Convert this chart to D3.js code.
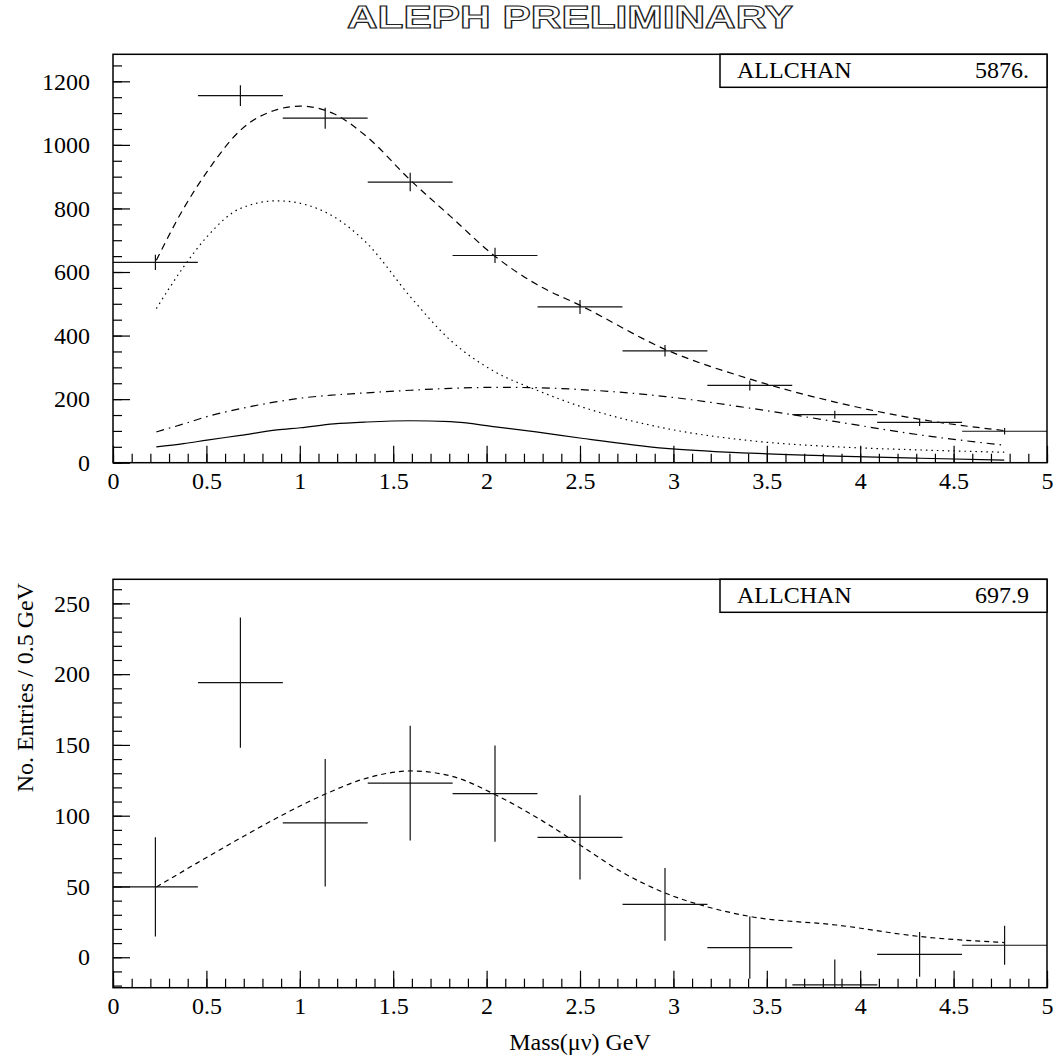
<!DOCTYPE html>
<html>
<head>
<meta charset="utf-8">
<script src="https://cdn.jsdelivr.net/npm/d3@7"></script>
<style>
  body { margin: 0; background: #fff; }
  svg text { font-family: "Liberation Serif", "Times New Roman", serif; }
</style>
</head>
<body>
<svg id="chart" width="1056" height="1060"></svg>
<script>
/* bin centres of the 11 mass bins (GeV), same for both histograms */
var binCenters = [0.227, 0.682, 1.136, 1.591, 2.045, 2.5, 2.955, 3.409, 3.864, 4.318, 4.773];
var binWidth = 0.4545;

/* upper histogram: all events */
var allCounts = [630, 1155, 1084, 883, 652, 490, 352, 243, 151, 127, 99];
var allErrors = [24, 33, 33, 29, 24, 22, 18, 16, 12.5, 11.5, 10.5];

/* fitted components of the upper histogram, sampled at curveX */
var curveX      = [0.232, 0.378, 0.503, 0.682, 0.878, 1.003, 1.182, 1.36, 1.592, 1.807, 2.048, 2.265, 2.508, 2.959, 3.416, 3.871, 4.325, 4.771];
var totalFit    = [637, 800, 915, 1046, 1111, 1122, 1098, 1025, 889, 775, 648, 562, 493, 356, 262, 190, 136, 101];
var dottedFit   = [485, 616, 711, 800, 824, 816, 774, 690, 522, 385, 285, 229, 176, 108, 69, 50, 40, 33];
var dashDotFit  = [97, 122, 145, 170, 192, 203, 213, 220, 228, 234, 237, 236, 230, 208, 171, 129, 87, 55];
var solidFit    = [50, 60, 71, 86, 103, 110, 122, 128, 132, 129, 113, 97, 77, 45, 30, 21, 14, 8];

/* lower histogram: background subtracted */
var subCounts = [49.7, 194, 95, 123, 115.6, 84.7, 37.4, 6.8, -19.5, 2.1, 8.5];
var subErrors = [35, 46, 45, 40.5, 34, 29.7, 25.7, 22, 18, 15.8, 13.8];
var subFitX   = [0.233, 0.449, 0.693, 0.9, 1.14, 1.37, 1.595, 1.821, 2.05, 2.303, 2.508, 2.72, 2.959, 3.176, 3.416, 3.871, 4.325, 4.771];
var subFit    = [49.7, 66.5, 85, 100, 115.5, 127, 131.6, 127.6, 114.6, 96, 78.6, 60.5, 45.2, 35.8, 28.7, 22.8, 14.6, 10.4];

/* tick values */
var xMajor = d3.range(0, 11).map(function(i) { return i * 0.5; });
var xMinor = d3.range(0, 51).map(function(i) { return i / 10; });
var topYMajor = d3.range(0, 7).map(function(i) { return i * 200; });
var topYMinor = d3.range(0, 26).map(function(i) { return i * 50; });
var botYMajor = d3.range(0, 6).map(function(i) { return i * 50; });
var botYMinor = d3.range(-2, 27).map(function(i) { return i * 10; });

var serif = "'Liberation Serif', 'Times New Roman', serif";

var svg = d3.select("#chart"),
    left = 113, right = 1047,
    width = right - left,
    panelH = 408.4;

/* outlined title */
svg.append("text")
    .attr("x", 570).attr("y", 28)
    .attr("text-anchor", "middle")
    .attr("textLength", 446).attr("lengthAdjust", "spacingAndGlyphs")
    .style("font-family", "'Liberation Sans', Arial, sans-serif")
    .style("font-weight", "bold")
    .style("font-size", "31px")
    .attr("fill", "#fff").attr("stroke", "#222").attr("stroke-width", 1.1)
    .text("ALEPH PRELIMINARY");

function styleAxis(sel) {
  sel.select(".domain").remove();
  sel.selectAll("line").attr("stroke", "#000").attr("stroke-width", 1.2);
  sel.selectAll("text").attr("fill", "#000")
    .style("font-family", serif).style("font-size", "24px");
}

function drawPanel(top, cfg) {
  var g = svg.append("g").attr("transform", "translate(" + left + "," + top + ")");
  var x = d3.scaleLinear().domain([0, 5]).range([0, width]);
  var y = d3.scaleLinear().domain(cfg.yDomain).range([panelH, 0]);

  g.append("clipPath").attr("id", cfg.id)
    .append("rect").attr("width", width).attr("height", panelH);

  /* axes: ticks point inward */
  g.append("g").call(d3.axisLeft(y).tickValues(cfg.yMinor).tickSize(-9).tickFormat("")).call(styleAxis);
  g.append("g").call(d3.axisLeft(y).tickValues(cfg.yMajor).tickSize(-17).tickPadding(23)
      .tickFormat(function(d) { return String(d); })).call(styleAxis);
  g.append("g").attr("transform", "translate(0," + panelH + ")")
    .call(d3.axisBottom(x).tickValues(xMinor).tickSize(-9).tickFormat("")).call(styleAxis);
  g.append("g").attr("transform", "translate(0," + panelH + ")")
    .call(d3.axisBottom(x).tickValues(xMajor).tickSize(-17).tickPadding(9).tickFormat(function(d) { return String(d); }))
    .call(styleAxis);

  var plot = g.append("g").attr("clip-path", "url(#" + cfg.id + ")");

  /* fit curves */
  var line = d3.line()
    .x(function(d) { return x(d[0]); })
    .y(function(d) { return y(d[1]); })
    .curve(d3.curveMonotoneX);

  cfg.curves.forEach(function(c) {
    plot.append("path")
      .datum(c.xs.map(function(v, i) { return [v, c.ys[i]]; }))
      .attr("d", line)
      .attr("fill", "none")
      .attr("stroke", "#000")
      .attr("stroke-width", 1.2)
      .attr("stroke-dasharray", c.dash);
  });

  /* data points with error bars */
  var pts = plot.selectAll(".pt")
    .data(binCenters.map(function(c, i) { return {x: c, v: cfg.counts[i], e: cfg.errors[i]}; }))
    .enter().append("g").attr("class", "pt");

  pts.append("line")
    .attr("x1", function(d) { return x(d.x - binWidth / 2); })
    .attr("x2", function(d) { return x(d.x + binWidth / 2); })
    .attr("y1", function(d) { return y(d.v); })
    .attr("y2", function(d) { return y(d.v); });
  pts.append("line")
    .attr("x1", function(d) { return x(d.x); })
    .attr("x2", function(d) { return x(d.x); })
    .attr("y1", function(d) { return y(d.v - d.e); })
    .attr("y2", function(d) { return y(d.v + d.e); });
  pts.selectAll("line").attr("stroke", "#111").attr("stroke-width", 1.2);

  /* frame */
  g.append("rect").attr("width", width).attr("height", panelH)
    .attr("fill", "none").attr("stroke", "#000").attr("stroke-width", 1.5);

  /* stats box */
  var box = g.append("g").attr("transform", "translate(607,0)");
  box.append("rect").attr("width", 327).attr("height", 33)
    .attr("fill", "#fff").attr("stroke", "#000").attr("stroke-width", 1.5);
  box.append("text").attr("x", 17).attr("y", 24).text("ALLCHAN");
  box.append("text").attr("x", 309).attr("y", 24)
    .attr("text-anchor", "end").text(cfg.stat);
  box.selectAll("text").style("font-family", serif).style("font-size", "24px");

  return g;
}

drawPanel(54.3, {
  id: "clipTop",
  yDomain: [0, 1285],
  yMajor: topYMajor,
  yMinor: topYMinor,
  counts: allCounts,
  errors: allErrors,
  stat: "5876.",
  curves: [
    {xs: curveX, ys: totalFit, dash: "7,5"},
    {xs: curveX, ys: dottedFit, dash: "1.5,4"},
    {xs: curveX, ys: dashDotFit, dash: "8,5,1.5,5"},
    {xs: curveX, ys: solidFit, dash: null}
  ]
});

drawPanel(579.3, {
  id: "clipBot",
  yDomain: [-21.5, 267],
  yMajor: botYMajor,
  yMinor: botYMinor,
  counts: subCounts,
  errors: subErrors,
  stat: "697.9",
  curves: [
    {xs: subFitX, ys: subFit, dash: "5,4"}
  ]
});

/* axis titles */
svg.append("text")
    .attr("transform", "translate(33,583) rotate(-90)")
    .attr("text-anchor", "end")
    .style("font-family", serif).style("font-size", "24px")
    .text("No. Entries / 0.5 GeV");

svg.append("text")
    .attr("x", 580).attr("y", 1050)
    .attr("text-anchor", "middle")
    .style("font-family", serif).style("font-size", "24px")
    .text("Mass(\u03bc\u03bd) GeV");
</script>
</body>
</html>
